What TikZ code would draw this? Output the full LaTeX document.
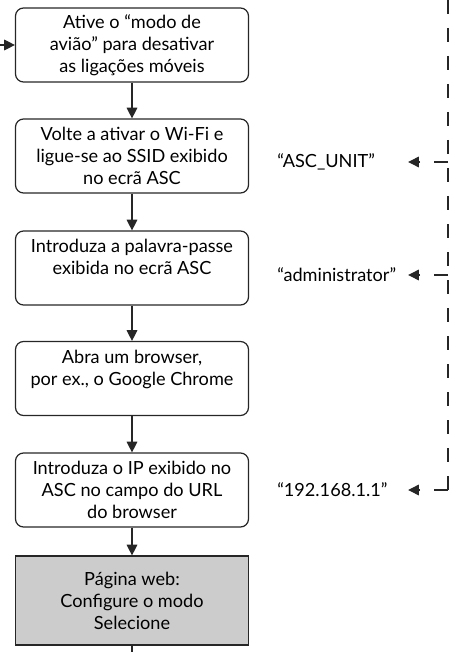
\documentclass[tikz,border=0pt]{standalone}
\usepackage{fontspec}
\setmainfont{Lato}
\usetikzlibrary{arrows.meta}

\colorlet{linecol}{black!85}
\colorlet{pagecol}{gray!40}

\begin{document}
\begin{tikzpicture}[x=0.75pt, y=-0.75pt,
          stepbox/.style={draw=linecol, line width=0.9pt, rounded corners=6pt,
                          minimum width=174.75pt, minimum height=55.5pt,
                          align=center, font=\fontsize{13.6}{16.5}\selectfont, inner sep=0},
          pagebox/.style={stepbox, rounded corners=0pt, fill=pagecol, minimum height=66.75pt},
          vallabel/.style={font=\fontsize{13.6}{16.5}\selectfont, text width=96pt,
                           align=left, inner sep=0, anchor=west},
          flow/.style={draw=linecol, line width=0.9pt, -{Triangle[length=8pt, width=8pt]}},
          dashline/.style={draw=linecol, line width=0.9pt, dash pattern=on 10.5pt off 10.5pt}
        ]
        \useasboundingbox (0,0) rectangle (454,652);

        % ---- steps ----
        \node[stepbox] (flug) at (132, 45)    {Ative o ``modo de\\avião'' para desativar\\as ligações móveis};
        \node[stepbox] (wifi) at (132, 156)   {Volte a ativar o Wi-Fi e\\ligue-se ao SSID exibido\\no ecrã ASC};
        \node[stepbox] (pass) at (132, 268)   {Introduza a palavra-passe\\exibida no ecrã ASC\\\mbox{}};
        \node[stepbox] (brow) at (132, 378.5) {Abra um browser,\\por ex., o Google Chrome\\\mbox{}};
        \node[stepbox] (ip)   at (132, 490)   {Introduza o IP exibido no\\ASC no campo do URL\\do browser};
        \node[pagebox] (web)  at (132, 600.5) {Página web:\\Configure o modo\\Selecione};

        % ---- flow ----
        \coordinate (in)  at (0, 45);
        \coordinate (out) at (132, 652);
        \draw[flow] (in) -- (flug.west);
        \draw[flow] (flug) -- (wifi);
        \draw[flow] (wifi) -- (pass);
        \draw[flow] (pass) -- (brow);
        \draw[flow] (brow) -- (ip);
        \draw[flow] (ip) -- (web);
        \draw[draw=linecol, line width=0.9pt] (web) -- (out);

        % ---- values shown on the ASC screen ----
        \node[vallabel] (ssid) at (277, 162) {``ASC\_UNIT''};
        \node[vallabel] (pwd)  at (277, 275) {``administrator''};
        \node[vallabel] (addr) at (277, 490) {``192.168.1.1''};

        % ---- dashed feed line ----
        \coordinate (dtop) at (448, 0);
        \coordinate (j1)   at (448, 162);
        \coordinate (j2)   at (448, 275);
        \coordinate (j3)   at (448, 490);
        \draw[dashline] (dtop) -- (j3);
        \draw[dashline, -{Triangle[length=8pt, width=8pt]}, shorten >=2pt] (j1) -- (ssid.east);
        \draw[dashline, -{Triangle[length=8pt, width=8pt]}, shorten >=2pt] (j2) -- (pwd.east);
        \draw[dashline, -{Triangle[length=8pt, width=8pt]}, shorten >=2pt] (j3) -- (addr.east);
\end{tikzpicture}
\end{document}
